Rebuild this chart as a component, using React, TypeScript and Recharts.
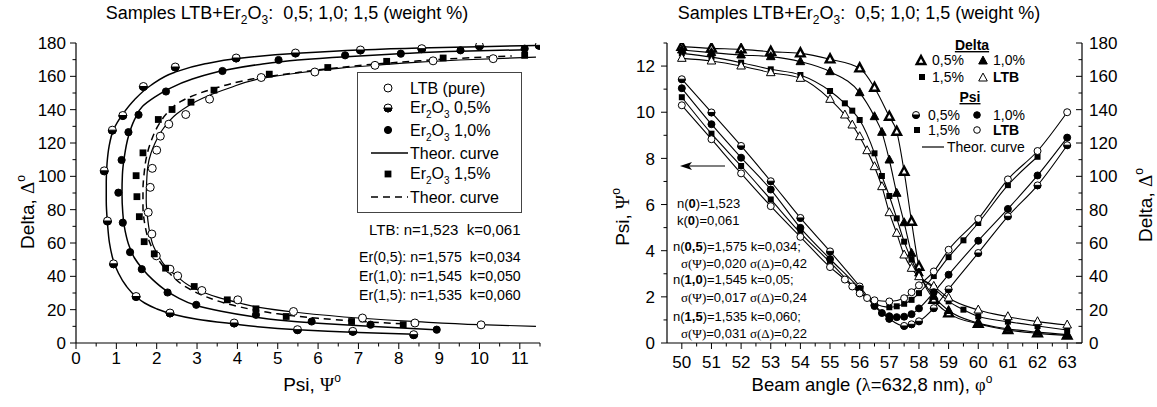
import React from 'react';
import { ComposedChart, Line, Scatter, XAxis, YAxis } from 'recharts';

type Pt = [number, number];

// ---- left panel: Delta vs Psi, measured points [psi, delta] ----
const ltbPoints: Pt[] = [
  [1.84, 93.4], [1.89, 104.8], [1.79, 78.4], [1.88, 65.4], [1.99, 52.3], [2.0, 115.7], [2.09, 124.1],
  [2.3, 131.3], [2.72, 137.1], [3.31, 146.3], [4.59, 159.3], [5.92, 162.6], [7.41, 166.6], [8.85, 169.3],
  [10.34, 170.6], [2.33, 44.3], [2.52, 40.3], [3.12, 31.5], [4.01, 25.9], [5.39, 18.9], [7.1, 15],
  [8.4, 12], [10.04, 10.9],
];
const er05Points: Pt[] = [
  [0.7, 103.3], [0.78, 73.2], [0.93, 47.5], [0.9, 127.7], [1.16, 136.5], [1.67, 153.9], [2.46, 165.6],
  [3.97, 171], [5.44, 174], [7.05, 175.8], [8.57, 176.6], [10.0, 178.3], [11.48, 178.6], [1.49, 27.9],
  [2.33, 18], [3.92, 12], [5.49, 8], [6.86, 7], [8.37, 5],
];
const er10Points: Pt[] = [
  [1.05, 90.2], [1.13, 109.8], [1.16, 72.2], [1.3, 126.5], [1.34, 54.5], [1.55, 136.9], [1.63, 44.3],
  [2.23, 150.9], [2.27, 30.3], [2.98, 22.9], [3.63, 163.2], [4.46, 16.9], [5.02, 169.8], [5.84, 12.9],
  [6.67, 172.6], [7.3, 11], [8.05, 173.6], [8.94, 8], [9.53, 175.6], [11.12, 176.6],
];
const er15Points: Pt[] = [
  [1.49, 100.4], [1.66, 114.1], [1.51, 87.8], [1.57, 75.8], [1.69, 60.8], [1.94, 53.5], [2.04, 134.1],
  [2.38, 140.1], [2.85, 144.5], [3.42, 151.7], [4.79, 161.3], [6.24, 165.3], [7.7, 169], [9.1, 171],
  [11.12, 172.6], [2.22, 44.9], [2.93, 33.9], [3.75, 25.9], [4.46, 20.5], [5.21, 15.9], [6.83, 12.9],
  [8.11, 11],
];

// theoretical curves, ordered by Delta
const er05Curve: Pt[] = [
  [8.4, 5.2], [7, 6.3], [5.5, 8], [4.5, 9.8], [3.9, 11.5], [3.0, 14.3], [2.4, 17.3], [2.0, 20.5],
  [1.7, 24], [1.5, 27.5], [1.25, 34], [1.05, 42], [0.92, 50], [0.83, 60], [0.78, 72], [0.75, 85],
  [0.75, 97], [0.77, 108], [0.82, 118], [0.93, 128], [1.15, 137], [1.45, 146], [1.85, 154.5],
  [2.45, 162.5], [3.2, 167.5], [4.0, 170.7], [5.5, 173.8], [7, 175.8], [8.5, 177], [10, 177.8], [11.4, 178.5],
];
const er10Curve: Pt[] = [
  [8.9, 8], [7.5, 9.8], [6, 11.8], [5, 13.8], [4.4, 15.7], [3.6, 19], [2.95, 22.8], [2.5, 27.5],
  [2.2, 32], [1.9, 38], [1.63, 45], [1.45, 51], [1.32, 58], [1.22, 67], [1.16, 78], [1.14, 90],
  [1.15, 101], [1.2, 112], [1.3, 124], [1.45, 134], [1.65, 142], [1.95, 147.5], [2.3, 152.5],
  [2.9, 158.5], [3.65, 163.5], [4.5, 167], [5.5, 169.8], [6.7, 171.8], [8, 173.5], [9.5, 175], [11.2, 176],
];
const ltbCurve: Pt[] = [
  [11.4, 10], [10, 11], [8.45, 12.8], [7, 15], [5.5, 18.3], [4.5, 21.5], [4.05, 24], [3.5, 27.5],
  [3.2, 30], [2.8, 34.5], [2.5, 40], [2.2, 46.5], [2.05, 52], [1.92, 58], [1.83, 66], [1.77, 76],
  [1.74, 86], [1.75, 96], [1.78, 106], [1.86, 114], [1.96, 120], [2.13, 127.5], [2.5, 137.5],
  [3.15, 147], [3.8, 153], [4.55, 158.5], [5.5, 162], [6.5, 164.8], [7.5, 166.8], [8.5, 168.5],
  [9.5, 169.8], [11.4, 171.5],
];
const er15Curve: Pt[] = [
  [8.1, 11.5], [7, 13], [6, 14.8], [5, 17.5], [4, 22], [3.25, 27.5], [2.7, 34], [2.33, 41.5],
  [2.1, 48], [1.95, 54], [1.8, 62], [1.7, 72], [1.66, 82], [1.66, 92], [1.69, 102], [1.75, 112],
  [1.86, 121], [2.05, 131], [2.3, 139], [2.6, 145], [3.4, 152.5], [4.4, 158.5], [5.5, 162.3],
  [6.5, 165.2], [7.5, 167.5], [8.5, 169.3], [9.5, 170.8], [10.8, 172.2],
];

const leftPsiTicks = [0, 0.5, 1, 1.5, 2, 2.5, 3, 3.5, 4, 4.5, 5, 5.5, 6, 6.5, 7, 7.5, 8, 8.5, 9, 9.5, 10, 10.5, 11, 11.5];
const leftDeltaTicks = [0, 10, 20, 30, 40, 50, 60, 70, 80, 90, 100, 110, 120, 130, 140, 150, 160, 170, 180];

// ---- right panel: vs beam angle ----
const beamAngles = [50, 51, 52, 53, 54, 55, 55.5, 55.75, 56, 56.25, 56.5, 56.75, 57, 57.25, 57.5, 57.75, 58, 58.5, 59, 59.5, 60, 61, 62, 63];

const delta05 = [177.8, 176.8, 176.2, 174.8, 173.8, 170.2, null, null, 164.8, null, 153.2, null, 135.8, 126.8, 102.8, 72.8, 45.8, 26, 17.8, null, 11.5, 7.8, 5.8, 4.5];
const delta10 = [175.8, 174.2, 172.8, 171.8, 168.8, 162.8, null, null, 150.2, null, 135.8, 126.4, 109.8, 89.8, 72.2, 53.8, 42, 28, 19.5, null, 12, 8.5, 6.5, 5];
const delta15 = [173.8, 171.5, 168.2, 164.2, 160.8, 151.2, 143.8, 139.4, 133.8, null, 113.8, 100.2, 88.2, 74.8, 60.8, 50, 41, 33, 25, 20, 16, 12.8, 10.2, 7.8];
const deltaLtb = [170.8, 169.2, 166.2, 162.2, 158.8, 146.2, 136.8, 130.8, 123.8, 115.4, 105.8, 93.8, 78.2, 65.8, 52.8, 44.8, 39.8, 34, 27, null, 19.8, 15.8, 12.8, 10.8];

const psi05 = [11.43, 9.99, 8.54, 7.01, 5.42, 3.97, null, null, 2.45, null, 1.65, null, 1.05, null, 0.74, 0.81, 0.94, 1.51, 2.33, null, 3.9, 5.49, 6.83, 8.57];
const psi10 = [11.04, 9.48, 8.03, 6.65, 4.99, 3.64, null, null, 2.35, null, 1.6, 1.3, 1.16, 1.12, 1.14, 1.25, 1.5, 2.2, 2.96, null, 4.43, 5.81, 7.26, 8.9];
const psi15 = [10.65, 9.07, 7.67, 6.22, 4.77, 3.5, null, null, 2.2, null, 1.72, null, 1.55, 1.59, 1.7, 1.87, 2.16, 2.9, 3.72, 4.45, 5.2, 6.84, 8.07, null];
const psiLtb = [10.3, 8.83, 7.35, 5.93, 4.6, 3.29, 2.75, 2.45, 2.15, 1.95, 1.85, null, 1.8, null, 1.94, 2.2, 2.5, 3.1, 4.04, null, 5.38, 7.09, 8.32, 10.0];

const angleTicks = [50, 50.5, 51, 51.5, 52, 52.5, 53, 53.5, 54, 54.5, 55, 55.5, 56, 56.5, 57, 57.5, 58, 58.5, 59, 59.5, 60, 60.5, 61, 61.5, 62, 62.5, 63];
const psiTicks = [0, 1, 2, 3, 4, 5, 6, 7, 8, 9, 10, 11, 12, 13];
const deltaTicks = [0, 10, 20, 30, 40, 50, 60, 70, 80, 90, 100, 110, 120, 130, 140, 150, 160, 170, 180];

const SANS = '"Liberation Sans", Arial, sans-serif';
const SERIF = '"Liberation Serif", "Times New Roman", serif';
const NB = '\u00a0';

const toXY = (pts: Pt[]) => pts.map(([x, y]) => ({ x, y }));
const toSeries = (vals: (number | null)[]) =>
  beamAngles.map((x, i) => ({ x, y: vals[i] })).filter((d) => d.y !== null);

function Marker({ kind, cx, cy, s }: { kind: string; cx: number; cy: number; s: number }) {
  const tri = `${cx},${cy - 1.15 * s} ${cx - s},${cy + 0.7 * s} ${cx + s},${cy + 0.7 * s}`;
  switch (kind) {
    case 'open':
      return <circle cx={cx} cy={cy} r={s} fill="#fff" stroke="#000" strokeWidth={1} />;
    case 'filled':
      return <circle cx={cx} cy={cy} r={s} fill="#000" stroke="#000" strokeWidth={1} />;
    case 'half':
      return (
        <g>
          <circle cx={cx} cy={cy} r={s} fill="#fff" stroke="#000" strokeWidth={1} />
          <path d={`M${cx - s},${cy} A${s},${s} 0 0 0 ${cx + s},${cy} Z`} fill="#000" stroke="#000" strokeWidth={1} />
        </g>
      );
    case 'square':
      return <rect x={cx - s} y={cy - s} width={2 * s} height={2 * s} fill="#000" />;
    case 'triOpen':
      return <polygon points={tri} fill="#fff" stroke="#000" strokeWidth={1} />;
    case 'triFilled':
      return <polygon points={tri} fill="#000" stroke="#000" strokeWidth={1} />;
    case 'triThick':
      return <polygon points={tri} fill="#fff" stroke="#000" strokeWidth={2.4} strokeLinejoin="miter" />;
    default:
      return null;
  }
}

const shape = (kind: string, s: number) => (p: any) => <Marker kind={kind} cx={p.cx} cy={p.cy} s={s} />;

const isMajor = (v: number, step: number) => Math.abs(v / step - Math.round(v / step)) < 1e-6;

function BottomTick(props: any) {
  const { x, y, payload, fs, dy, step } = props;
  const major = isMajor(payload.value, step);
  return (
    <g>
      <line x1={x} x2={x} y1={y} y2={y + (major ? 6 : 3.5)} stroke="#000" strokeWidth={1} />
      {major && (
        <text x={x} y={y + dy} textAnchor="middle" fontSize={fs} fontFamily={SANS} fill="#000">
          {payload.value}
        </text>
      )}
    </g>
  );
}

function LeftTick(props: any) {
  const { x, y, payload, fs, gap, step } = props;
  const major = isMajor(payload.value, step);
  return (
    <g>
      <line x1={x} x2={x - (major ? 6 : 3.5)} y1={y} y2={y} stroke="#000" strokeWidth={1} />
      {major && (
        <text x={x - gap} y={y + fs * 0.36} textAnchor="end" fontSize={fs} fontFamily={SANS} fill="#000">
          {payload.value}
        </text>
      )}
    </g>
  );
}

function RightTick(props: any) {
  const { x, y, payload, fs, gap, step } = props;
  const major = isMajor(payload.value, step);
  return (
    <g>
      <line x1={x} x2={x - (major ? 6 : 3.5)} y1={y} y2={y} stroke="#000" strokeWidth={1} />
      {major && (
        <text x={x + gap} y={y + fs * 0.36} textAnchor="start" fontSize={fs} fontFamily={SANS} fill="#000">
          {payload.value}
        </text>
      )}
    </g>
  );
}

const axisLine = { stroke: '#000', strokeWidth: 1.2 };

function LeftChart() {
  return (
    <ComposedChart width={560} height={407} margin={{ top: 43, right: 20, bottom: 34, left: 26 }}>
      <XAxis
        type="number" dataKey="x" domain={[0, 11.5]} ticks={leftPsiTicks} interval={0} allowDataOverflow
        height={30} tickSize={0} tickMargin={0} tickLine={false} axisLine={axisLine}
        tick={(p: any) => <BottomTick {...p} fs={17} dy={21} step={1} />}
      />
      <YAxis
        type="number" dataKey="y" domain={[0, 180]} ticks={leftDeltaTicks} interval={0} allowDataOverflow
        width={50} tickSize={0} tickMargin={0} tickLine={false} axisLine={axisLine}
        tick={(p: any) => <LeftTick {...p} fs={17} gap={10} step={20} />}
      />
      <Line data={toXY(er05Curve)} dataKey="y" type="monotoneY" stroke="#000" strokeWidth={1.5} dot={false} isAnimationActive={false} />
      <Line data={toXY(er10Curve)} dataKey="y" type="monotoneY" stroke="#000" strokeWidth={1.5} dot={false} isAnimationActive={false} />
      <Line data={toXY(ltbCurve)} dataKey="y" type="monotoneY" stroke="#000" strokeWidth={1.2} dot={false} isAnimationActive={false} />
      <Line data={toXY(er15Curve)} dataKey="y" type="monotoneY" stroke="#000" strokeWidth={1.5} strokeDasharray="7 5" dot={false} isAnimationActive={false} />
      <Scatter data={toXY(ltbPoints)} dataKey="y" shape={shape('open', 4)} isAnimationActive={false} />
      <Scatter data={toXY(er05Points)} dataKey="y" shape={shape('half', 4)} isAnimationActive={false} />
      <Scatter data={toXY(er10Points)} dataKey="y" shape={shape('filled', 3.6)} isAnimationActive={false} />
      <Scatter data={toXY(er15Points)} dataKey="y" shape={shape('square', 3.4)} isAnimationActive={false} />
    </ComposedChart>
  );
}

function RightChart() {
  const psiSeries = [
    { vals: psi05, kind: 'half' },
    { vals: psi10, kind: 'filled' },
    { vals: psi15, kind: 'square' },
    { vals: psiLtb, kind: 'open' },
  ];
  const deltaSeries = [
    { vals: delta05, kind: 'triThick' },
    { vals: delta10, kind: 'triFilled' },
    { vals: delta15, kind: 'square' },
    { vals: deltaLtb, kind: 'triOpen' },
  ];
  return (
    <ComposedChart width={557} height={407} margin={{ top: 43, right: 35, bottom: 34, left: 27 }}>
      <XAxis
        type="number" dataKey="x" domain={[49.5, 63.5]} ticks={angleTicks} interval={0} allowDataOverflow
        height={30} tickSize={0} tickMargin={0} tickLine={false} axisLine={axisLine}
        tick={(p: any) => <BottomTick {...p} fs={17} dy={25} step={1} />}
      />
      <YAxis
        yAxisId="psi" orientation="left" type="number" dataKey="y" domain={[0, 13]} ticks={psiTicks} interval={0}
        allowDataOverflow width={40} tickSize={0} tickMargin={0} tickLine={false} axisLine={axisLine}
        tick={(p: any) => <LeftTick {...p} fs={17} gap={12} step={2} />}
      />
      <YAxis
        yAxisId="delta" orientation="right" type="number" dataKey="y" domain={[0, 180]} ticks={deltaTicks} interval={0}
        allowDataOverflow width={40} tickSize={0} tickMargin={0} tickLine={false} axisLine={axisLine}
        tick={(p: any) => <RightTick {...p} fs={17} gap={7} step={20} />}
      />
      {deltaSeries.map((s, i) => (
        <Line key={`dl${i}`} yAxisId="delta" data={toSeries(s.vals)} dataKey="y" type="monotone" stroke="#000" strokeWidth={1.1} dot={false} isAnimationActive={false} />
      ))}
      {psiSeries.map((s, i) => (
        <Line key={`pl${i}`} yAxisId="psi" data={toSeries(s.vals)} dataKey="y" type="monotone" stroke="#000" strokeWidth={1.1} dot={false} isAnimationActive={false} />
      ))}
      {deltaSeries.map((s, i) => (
        <Scatter key={`ds${i}`} yAxisId="delta" data={toSeries(s.vals)} dataKey="y" shape={shape(s.kind, s.kind === 'square' ? 3 : 4.3)} isAnimationActive={false} />
      ))}
      {psiSeries.map((s, i) => (
        <Scatter key={`ps${i}`} yAxisId="psi" data={toSeries(s.vals)} dataKey="y" shape={shape(s.kind, s.kind === 'square' ? 3 : 3.5)} isAnimationActive={false} />
      ))}
    </ComposedChart>
  );
}

function Title({ cx }: { cx: number }) {
  return (
    <text x={cx} y={19} textAnchor="middle" fontSize={18} fontFamily={SANS}>
      Samples LTB+Er<tspan fontSize={12} dy={5}>2</tspan>
      <tspan dy={-5}>O</tspan>
      <tspan fontSize={12} dy={5}>3</tspan>
      <tspan dy={-5}>{`:${NB}${NB}0,5; 1,0; 1,5 (weight %)`}</tspan>
    </text>
  );
}

function ErLabel({ x, y, rest }: { x: number; y: number; rest: string }) {
  return (
    <text x={x} y={y} fontSize={16} fontFamily={SANS}>
      Er<tspan fontSize={10} dy={5}>2</tspan>
      <tspan dy={-5}>O</tspan>
      <tspan fontSize={10} dy={5}>3</tspan>
      <tspan dy={-5}>{rest}</tspan>
    </text>
  );
}

function Overlay() {
  const sig = (a: string, b: string) => (
    <>
      <tspan fontFamily={SERIF}>σ(Ψ)</tspan>
      {`=${a} `}
      <tspan fontFamily={SERIF}>σ(Δ)</tspan>
      {`=${b}`}
    </>
  );
  return (
    <svg width={1157} height={407} style={{ position: 'absolute', left: 0, top: 0, pointerEvents: 'none' }}>
      <Title cx={287} />
      <Title cx={859} />

      {/* left axis titles */}
      <text transform="rotate(-90 34 212)" x={34} y={212} textAnchor="middle" fontSize={19} fontFamily={SANS}>
        Delta, <tspan fontFamily={SERIF}>Δ</tspan>
        <tspan fontSize={12} dy={-9}>o</tspan>
      </text>
      <text x={312} y={391} textAnchor="middle" fontSize={19} fontFamily={SANS}>
        Psi, <tspan fontFamily={SERIF}>Ψ</tspan>
        <tspan fontSize={12} dy={-9}>o</tspan>
      </text>

      {/* left legend */}
      <rect x={357.5} y={72.5} width={164} height={140} fill="#fff" stroke="#444" strokeWidth={1} />
      <Marker kind="open" cx={388} cy={88} s={4} />
      <text x={410} y={94} fontSize={16} fontFamily={SANS}>LTB (pure)</text>
      <Marker kind="half" cx={388} cy={108} s={4} />
      <ErLabel x={410} y={113} rest=" 0,5%" />
      <Marker kind="filled" cx={388} cy={130} s={3.6} />
      <ErLabel x={410} y={136} rest=" 1,0%" />
      <line x1={371} x2={408} y1={153} y2={153} stroke="#000" strokeWidth={1.5} />
      <text x={410} y={159} fontSize={16} fontFamily={SANS}>Theor. curve</text>
      <Marker kind="square" cx={388} cy={174} s={3.4} />
      <ErLabel x={410} y={179} rest=" 1,5%" />
      <line x1={371} x2={408} y1={197} y2={197} stroke="#000" strokeWidth={1.5} strokeDasharray="7 5" />
      <text x={410} y={203} fontSize={16} fontFamily={SANS}>Theor. curve</text>

      <g fontFamily={SANS}>
        <text x={369} y={235} fontSize={15}>{`LTB: n=1,523${NB}${NB}k=0,061`}</text>
        <text x={359} y={262} fontSize={14.2}>{`Er(0,5): n=1,575${NB}${NB}k=0,034`}</text>
        <text x={359} y={281} fontSize={14.2}>{`Er(1,0): n=1,545${NB}${NB}k=0,050`}</text>
        <text x={359} y={300} fontSize={14.2}>{`Er(1,5): n=1,535${NB}${NB}k=0,060`}</text>
      </g>

      {/* right axis titles */}
      <text transform="rotate(-90 629 217)" x={629} y={217} textAnchor="middle" fontSize={19} fontFamily={SANS}>
        Psi, <tspan fontFamily={SERIF}>Ψ</tspan>
        <tspan fontSize={12} dy={-9}>o</tspan>
      </text>
      <text transform="rotate(-90 1152 205)" x={1152} y={205} textAnchor="middle" fontSize={19} fontFamily={SANS}>
        Delta, <tspan fontFamily={SERIF}>Δ</tspan>
        <tspan fontSize={12} dy={-9}>o</tspan>
      </text>
      <text x={872} y={391} textAnchor="middle" fontSize={18.5} fontFamily={SANS}>
        Beam angle (<tspan fontFamily={SERIF}>λ</tspan>=632,8 nm), <tspan fontFamily={SERIF}>φ</tspan>
        <tspan fontSize={12} dy={-8}>o</tspan>
      </text>

      {/* right legend */}
      <g fontFamily={SANS} fontSize={14}>
        <text x={972} y={50} textAnchor="middle" fontWeight="bold" textDecoration="underline">Delta</text>
        <Marker kind="triThick" cx={921} cy={61} s={4.3} />
        <text x={932} y={65}>0,5%</text>
        <Marker kind="triFilled" cx={983} cy={61} s={4.3} />
        <text x={993} y={65}>1,0%</text>
        <Marker kind="square" cx={922} cy={77} s={3} />
        <text x={932} y={82}>1,5%</text>
        <Marker kind="triOpen" cx={983} cy={78} s={4.3} />
        <text x={993} y={82} fontWeight="bold">LTB</text>
        <text x={970} y={102} textAnchor="middle" fontWeight="bold" textDecoration="underline">Psi</text>
        <Marker kind="half" cx={916} cy={115} s={3.5} />
        <text x={928} y={120}>0,5%</text>
        <Marker kind="filled" cx={977} cy={115} s={3.3} />
        <text x={993} y={120}>1,0%</text>
        <Marker kind="square" cx={917} cy={130} s={3} />
        <text x={928} y={135}>1,5%</text>
        <Marker kind="open" cx={977} cy={130} s={3.3} />
        <text x={993} y={135} fontWeight="bold">LTB</text>
        <line x1={922} x2={944} y1={147} y2={147} stroke="#000" strokeWidth={1.2} />
        <text x={947} y={152}>Theor. curve</text>
      </g>

      {/* arrow */}
      <line x1={725} x2={686} y1={166} y2={166} stroke="#000" strokeWidth={1.2} />
      <polygon points="680,166 692,162 689,166 692,170" fill="#000" />

      {/* right annotations */}
      <g fontFamily={SANS} fontSize={13}>
        <text x={677} y={208}>n(<tspan fontWeight="bold">0</tspan>)=1,523</text>
        <text x={677} y={225}>k(<tspan fontWeight="bold">0</tspan>)=0,061</text>
        <text x={673} y={251}>n(<tspan fontWeight="bold">0,5</tspan>)=1,575 k=0,034;</text>
        <text x={681} y={268}>{sig('0,020', '0,42')}</text>
        <text x={673} y={284}>n(<tspan fontWeight="bold">1,0</tspan>)=1,545 k=0,05;</text>
        <text x={681} y={302}>{sig('0,017', '0,24')}</text>
        <text x={673} y={321}>n(<tspan fontWeight="bold">1,5</tspan>)=1,535 k=0,060;</text>
        <text x={681} y={338}>{sig('0,031', '0,22')}</text>
      </g>
    </svg>
  );
}

export default function App() {
  return (
    <div style={{ position: 'absolute', left: 0, top: 0, width: 1157, height: 407, background: '#fff', fontFamily: SANS }}>
      <div style={{ position: 'absolute', left: 0, top: 0 }}>
        <LeftChart />
      </div>
      <div style={{ position: 'absolute', left: 600, top: 0 }}>
        <RightChart />
      </div>
      <Overlay />
    </div>
  );
}
